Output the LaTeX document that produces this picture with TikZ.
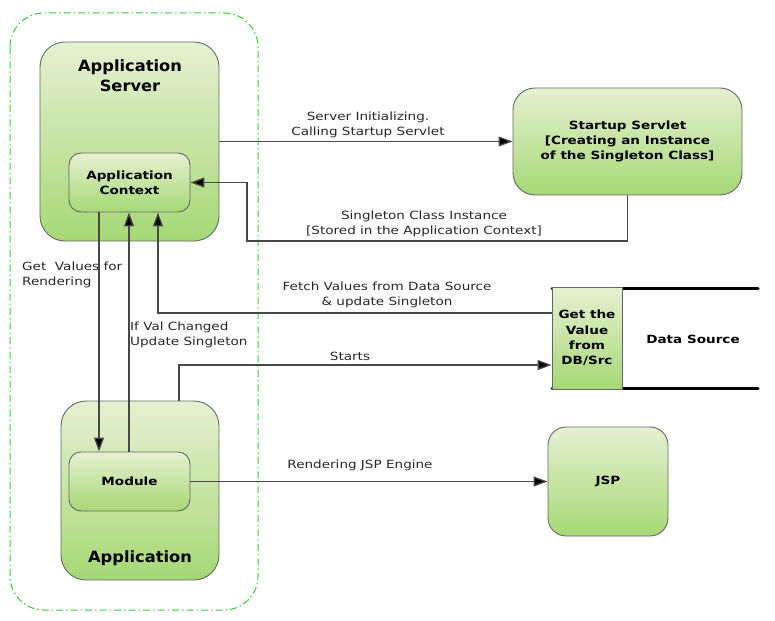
\documentclass[tikz,border=0pt]{standalone}
\usepackage{fontspec}
\setmainfont{DejaVu Sans}
\newfontfamily\lblfont[FakeStretch=1.2]{DejaVu Sans}
\newfontfamily\ttlfont[FakeStretch=1.05]{DejaVu Sans}
\usetikzlibrary{arrows.meta}
\definecolor{boxtop}{HTML}{E6F0D2}
\definecolor{boxbot}{HTML}{A6D875}
\definecolor{boxline}{HTML}{666666}
\definecolor{connline}{HTML}{484848}
\definecolor{outline}{HTML}{33CC33}
\definecolor{labtext}{HTML}{262626}
\tikzset{
  greenbox/.style={draw=boxline, line width=0.9pt, rounded corners=#1, top color=boxtop, bottom color=boxbot, inner sep=0pt, align=center, font=\lblfont\bfseries\fontsize{11.3}{15.2}\selectfont},
  greenbox/.default=14pt,
  conn/.style={draw=connline, line width=1.3pt, -{Triangle[length=14pt,width=10pt,fill=black]}},
  lab/.style={text=labtext, font=\lblfont\fontsize{11.3}{15}\selectfont, align=center, inner sep=0pt},
  title/.style={font=\ttlfont\bfseries\fontsize{15.5}{20}\selectfont, align=center, inner sep=0pt},
}
\begin{document}
\begin{tikzpicture}[x=1pt,y=-1pt]
\useasboundingbox (0,0) rectangle (775,620);
% outline of the grouping
\draw[outline, line width=1pt, dash pattern=on 7pt off 3pt on 1.5pt off 3pt, rounded corners=34pt] (10,13) rectangle (258,610);
% data store lines
\draw[line width=3pt, line cap=round] (552,288) -- (758,288);
\draw[line width=3pt, line cap=round] (552,388) -- (758,388);
\node[lab, font=\lblfont\bfseries\fontsize{11.3}{15}\selectfont, text=black] (dstext) at (693,339) {Data Source};
% boxes
\node[greenbox=25pt, minimum width=179pt, minimum height=199pt] (appserver) at (129.5,141.5) {};
\node[title] (appservertitle) at (130,76) {Application\\Server};
\node[greenbox=12pt, minimum width=121pt, minimum height=59pt] (appctx) at (129.5,182.5) {Application\\Context};
\node[greenbox=22pt, minimum width=229pt, minimum height=107pt] (startup) at (627.5,141.5) {Startup Servlet\\{}[Creating an Instance\\of the Singleton Class]};
\node[greenbox=0pt, minimum width=70pt, minimum height=102pt] (getval) at (587,338) {Get the\\Value\\from\\DB/Src};
\node[greenbox=25pt, minimum width=158pt, minimum height=179pt] (application) at (140,490.5) {};
\node[title] (apptitle) at (140,558) {Application};
\node[greenbox=12pt, minimum width=121pt, minimum height=59pt] (module) at (129.5,481.5) {Module};
\node[greenbox=18pt, minimum width=120pt, minimum height=109pt] (jsp) at (608,481.5) {JSP};
% helper coordinates
\coordinate (s1) at (247,241);
\coordinate (f1) at (158,313);
\coordinate (st1) at (179,365);
\coordinate (gv) at (99,300);
\coordinate (iv) at (129,300);
% connectors
\draw[conn] (appserver.east) -- (startup.west);
\draw[conn] (startup.south) |- (s1) |- (appctx.east);
\draw[conn] (getval.west |- f1) -- (f1) -- (appctx.south -| f1);
\draw[conn] (application.north -| st1) |- (getval.west |- st1);
\draw[conn] (appctx.south -| gv) -- (module.north -| gv);
\draw[conn] (module.north -| iv) -- (appctx.south -| iv);
\draw[conn] (module.east) -- (jsp.west);
% labels
\node[lab] (l1) at (368,125) {Server Initializing.\\Calling Startup Servlet};
\node[lab] (l2) at (424,224) {Singleton Class Instance\\{}[Stored in the Application Context]};
\node[lab] (l3) at (387,295) {Fetch Values from Data Source\\\& update Singleton};
\node[lab, align=left, anchor=west] (l4) at (22,275) {Get\ \ Values for\\Rendering};
\node[lab, align=left, anchor=west] (l5) at (130,335) {If Val Changed\\Update Singleton};
\node[lab] (l6) at (350,356) {Starts};
\node[lab] (l7) at (360,465) {Rendering JSP Engine};
\end{tikzpicture}
\end{document}
